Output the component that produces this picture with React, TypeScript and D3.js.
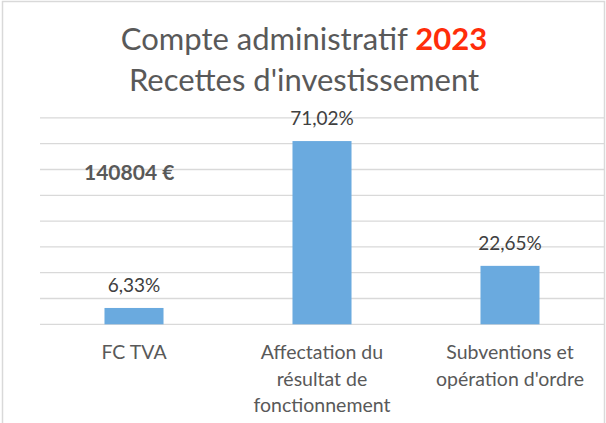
import React, { useEffect, useRef } from 'react';
import * as d3 from 'd3';

// valeurs
const categories = ['FC TVA', 'Affectation du résultat de fonctionnement', 'Subventions et opération d\'ordre'];
const categoryLines = [['FC TVA'], ['Affectation du', 'résultat de', 'fonctionnement'], ['Subventions et', 'opération d\'ordre']];
const values = [6.33, 71.02, 22.65];
const valueLabels = ['6,33%', '71,02%', '22,65%'];
const gridTicks = [0, 10, 20, 30, 40, 50, 60, 70, 80];
const totalLabel = '140804 €';

const W = 606;
const H = 423;
const FONT = 'Lato, Carlito, "Open Sans", sans-serif';

function drawChart(svgRef: React.RefObject<SVGSVGElement>) {
    const svg = d3.select(svgRef.current);
    svg.selectAll('*').remove();
    svg.attr('width', W).attr('height', H);

    // cadre du graphique
    svg.append('rect')
        .attr('x', 2.5).attr('y', 1.5)
        .attr('width', 602).attr('height', H + 10)
        .attr('fill', '#fff')
        .attr('stroke', '#d9d9d9')
        .attr('stroke-width', 1.5);

    const x = d3.scaleBand<string>()
        .domain(categories)
        .range([40, 604])
        .paddingInner(0.686)
        .paddingOuter(0.343);

    const y = d3.scaleLinear()
        .domain([0, 80])
        .range([324.3, 117.9]);

    // lignes de quadrillage
    svg.append('g')
        .selectAll('line')
        .data(gridTicks)
        .join('line')
        .attr('x1', 40)
        .attr('x2', 604)
        .attr('y1', d => y(d))
        .attr('y2', d => y(d))
        .attr('stroke', '#d9d9d9')
        .attr('stroke-width', 1.3);

    // barres
    svg.append('g')
        .selectAll('rect')
        .data(values)
        .join('rect')
        .attr('x', (d, i) => x(categories[i])!)
        .attr('width', x.bandwidth())
        .attr('y', d => y(d))
        .attr('height', d => y(0) - y(d))
        .attr('fill', '#6aaadf');

    // etiquettes de valeurs
    svg.append('g')
        .selectAll('text')
        .data(values)
        .join('text')
        .attr('x', (d, i) => x(categories[i])! + x.bandwidth() / 2)
        .attr('y', d => y(d) - 16)
        .attr('text-anchor', 'middle')
        .attr('font-family', FONT)
        .attr('font-size', 19)
        .attr('fill', '#404040')
        .text((d, i) => valueLabels[i]);

    // etiquettes de categories
    const cat = svg.append('g')
        .selectAll('text')
        .data(categoryLines)
        .join('text')
        .attr('text-anchor', 'middle')
        .attr('font-family', FONT)
        .attr('font-size', 19.5)
        .attr('fill', '#595959');
    cat.each(function (lines, i) {
        const cx = x(categories[i])! + x.bandwidth() / 2;
        d3.select(this)
            .selectAll('tspan')
            .data(lines)
            .join('tspan')
            .attr('x', cx)
            .attr('y', (l, j) => 359.3 + j * 26.2)
            .text(l => l);
    });

    // titre
    const t1 = svg.append('text')
        .attr('x', 304)
        .attr('y', 49.5)
        .attr('text-anchor', 'middle')
        .attr('font-family', FONT)
        .attr('font-size', 31)
        .attr('fill', '#595959');
    t1.append('tspan').text('Compte administratif ');
    t1.append('tspan').attr('font-weight', 'bold').attr('fill', '#ff2d0a').text('2023');

    svg.append('text')
        .attr('x', 304)
        .attr('y', 90.7)
        .attr('text-anchor', 'middle')
        .attr('font-family', FONT)
        .attr('font-size', 31)
        .attr('fill', '#595959')
        .text('Recettes d\'investissement');

    svg.append('text')
        .attr('x', 84)
        .attr('y', 180)
        .attr('font-family', FONT)
        .attr('font-size', 21)
        .attr('font-weight', 'bold')
        .attr('fill', '#595959')
        .text(totalLabel);
}

export default function App() {
    const svg = useRef<SVGSVGElement>(null);

    useEffect(() => {
        drawChart(svg);
    }, []);

    return (
        <div style={{ position: 'absolute', left: 0, top: 0 }}>
            <svg ref={svg} style={{ display: 'block' }} />
        </div>
    );
}
